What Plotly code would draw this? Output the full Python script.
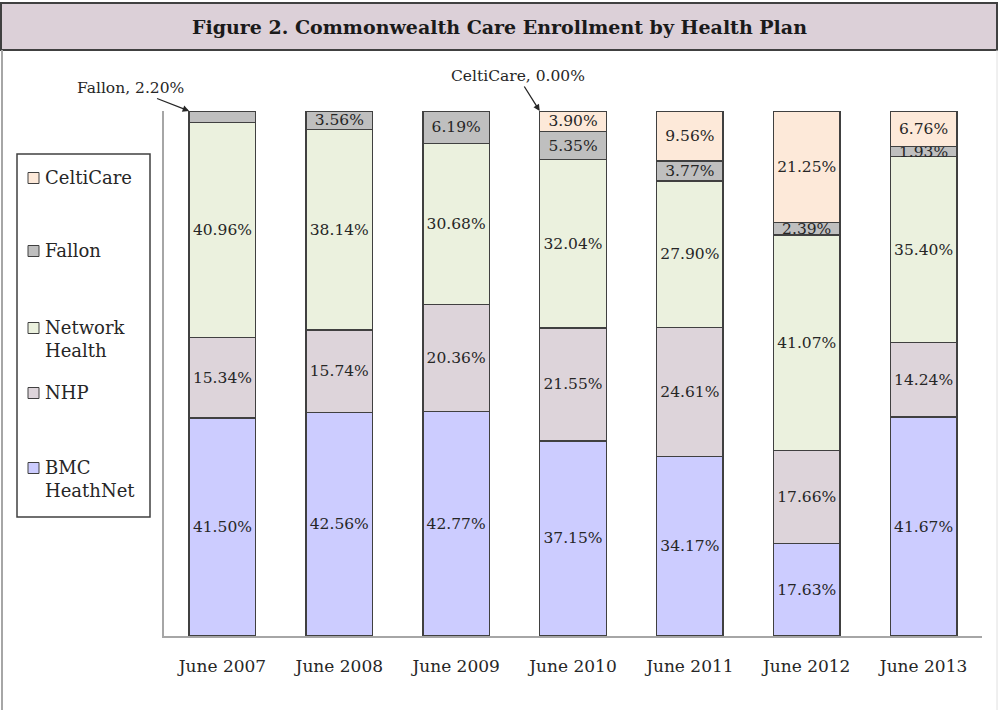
import plotly.graph_objects as go

W, H = 998, 710

categories = ["June 2007", "June 2008", "June 2009", "June 2010", "June 2011", "June 2012", "June 2013"]
bmc = [41.50, 42.56, 42.77, 37.15, 34.17, 17.63, 41.67]
nhp = [15.34, 15.74, 20.36, 21.55, 24.61, 17.66, 14.24]
network = [40.96, 38.14, 30.68, 32.04, 27.90, 41.07, 35.40]
fallon = [2.20, 3.56, 6.19, 5.35, 3.77, 2.39, 1.93]
celticare = [0.00, 0.00, 0.00, 3.90, 9.56, 21.25, 6.76]

series = [
    ("BMC<br>HeathNet", bmc, "#CCCCFF"),
    ("NHP", nhp, "#DDD4DA"),
    ("Network<br>Health", network, "#EBF1DE"),
    ("Fallon", fallon, "#BFBFBF"),
    ("CeltiCare", celticare, "#FDE9D9"),
]

FONT = "DejaVu Serif"
TXT = "#262626"

def px(x):
    return x / W

def py(y):
    return 1 - y / H

xpos = list(range(len(categories)))

fig = go.Figure()
for name, vals, col in series:
    labels = []
    for i, v in enumerate(vals):
        if v == 0 or (name == "Fallon" and i == 0):
            labels.append("")
        else:
            labels.append(f"{v:.2f}%")
    fig.add_trace(go.Bar(
        x=xpos, y=vals, name=name.replace("<br>", " "),
        marker=dict(color=col, line=dict(color="#404040", width=1.5)),
        text=labels, textposition="inside", insidetextanchor="middle",
        textangle=0, constraintext="none",
        textfont=dict(family=FONT, size=15.5, color=TXT),
        hoverinfo="skip",
    ))

bargap = 0.43
half = (1 - bargap) / 2

shapes = []
annotations = []

# title bar
shapes.append(dict(type="rect", xref="paper", yref="paper",
                   x0=px(1), x1=px(997), y0=py(50), y1=py(3),
                   fillcolor="#DCD0D8", line=dict(color="#404040", width=2), layer="below"))
# outer frame
shapes.append(dict(type="line", xref="paper", yref="paper",
                   x0=px(2), x1=px(2), y0=py(50), y1=py(712),
                   line=dict(color="#A6A6A6", width=2)))
shapes.append(dict(type="line", xref="paper", yref="paper",
                   x0=px(997), x1=px(997), y0=py(50), y1=py(712),
                   line=dict(color="#E0E0E0", width=1)))
annotations.append(dict(text="<b>Figure 2. Commonwealth Care Enrollment by Health Plan</b>",
                        xref="paper", yref="paper", x=px(499), y=py(27),
                        xanchor="center", yanchor="middle", showarrow=False,
                        font=dict(family=FONT, size=19, color="#1a1a1a")))

# legend (manual)
shapes.append(dict(type="rect", xref="paper", yref="paper",
                   x0=px(17), x1=px(150), y0=py(517), y1=py(154),
                   fillcolor="white", line=dict(color="#404040", width=1.5)))
legend_order = list(reversed(series))
legend_y = [178, 251, 328, 393, 468]
for (name, vals, col), yc in zip(legend_order, legend_y):
    shapes.append(dict(type="rect", xref="paper", yref="paper",
                       x0=px(28), x1=px(39), y0=py(yc + 5.5), y1=py(yc - 5.5),
                       fillcolor=col, line=dict(color="#404040", width=1)))
    annotations.append(dict(text=name, xref="paper", yref="paper",
                            x=px(43), y=py(yc - 13), xanchor="left", yanchor="top",
                            align="left", showarrow=False,
                            font=dict(family=FONT, size=18, color=TXT)))

# callouts
annotations.append(dict(text="Fallon, 2.20%", x=0 - half, y=100, xref="x", yref="y",
                        ax=-59, ay=-23, showarrow=True, arrowhead=2, arrowsize=1,
                        arrowwidth=1.3, arrowcolor="#262626", standoff=0,
                        font=dict(family=FONT, size=15.5, color=TXT)))
annotations.append(dict(text="CeltiCare, 0.00%", x=3 - half, y=100, xref="x", yref="y",
                        ax=-22, ay=-35, showarrow=True, arrowhead=2, arrowsize=1,
                        arrowwidth=1.3, arrowcolor="#262626", standoff=0,
                        font=dict(family=FONT, size=15.5, color=TXT)))

fig.update_layout(
    width=W, height=H,
    margin=dict(l=0, r=0, t=0, b=0),
    paper_bgcolor="white", plot_bgcolor="white",
    barmode="stack", bargap=bargap,
    showlegend=False,
    uniformtext=dict(minsize=15.5, mode="show"),
    shapes=shapes, annotations=annotations,
    xaxis=dict(domain=[px(164), px(982)], range=[-0.5, len(categories) - 0.5],
               tickmode="array", tickvals=xpos, ticktext=categories,
               showgrid=False, showline=True, zeroline=False,
               linecolor="#A6A6A6", linewidth=2, ticks="", ticklabelstandoff=14,
               tickfont=dict(family=FONT, size=17, color=TXT), fixedrange=True),
    yaxis=dict(domain=[py(636), py(111)], range=[0, 100], showgrid=False,
               showline=True, linecolor="#A6A6A6", linewidth=2, ticks="",
               showticklabels=False, zeroline=False, fixedrange=True),
)

fig.write_html("out.html")
